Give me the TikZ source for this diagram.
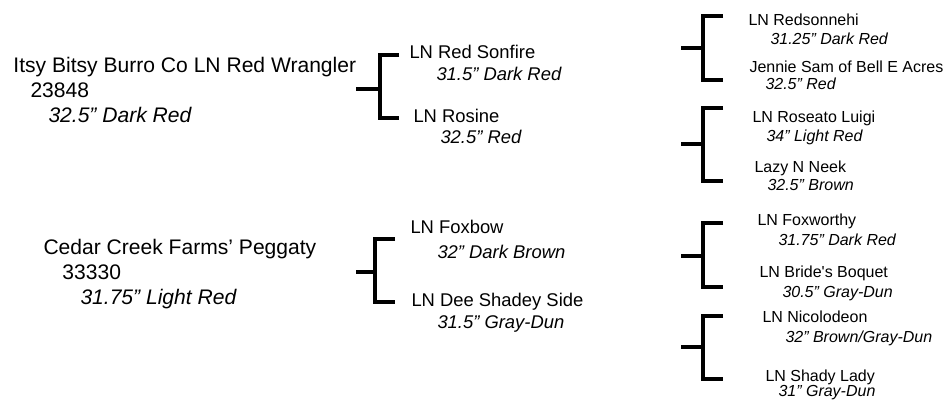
\documentclass[tikz,border=0pt]{standalone}
\usepackage{fontspec}
\setmainfont{Liberation Sans}
\tikzset{every picture/.style={line width=0.75pt}}
\tikzset{
	sire/.style={anchor=base west,inner sep=0pt,font=\fontsize{15.8}{19}\selectfont},
	sireinfo/.style={sire,font=\fontsize{15.8}{19}\selectfont\itshape},
	parent/.style={anchor=base west,inner sep=0pt,font=\fontsize{13.8}{16}\selectfont},
	parentinfo/.style={parent,font=\fontsize{13.8}{16}\selectfont\itshape},
	grand/.style={anchor=base west,inner sep=0pt,font=\fontsize{12}{14}\selectfont},
	grandinfo/.style={grand,font=\fontsize{12}{14}\selectfont\itshape},
	bracket/.style={line width=3.2pt}
}

\begin{document}
\begin{tikzpicture}[x=0.75pt,y=0.75pt,yscale=-1,xscale=1]
		\useasboundingbox (0,0) rectangle (947,400);
		
		%Generation 1
		\node [sire] (wrangler) at (13,72) {Itsy Bitsy Burro Co LN Red Wrangler};
		\node [sire] (wranglerreg) at (30,97) {23848};
		\node [sireinfo] (wranglerht) at (48,122) {32.5” Dark Red};
		\node [sire] (peggaty) at (43,254) {Cedar Creek Farms’ Peggaty};
		\node [sire] (peggatyreg) at (62,279) {33330};
		\node [sireinfo] (peggatyht) at (80,304) {31.75” Light Red};
		
		%Generation 2
		\node [parent] (sonfire) at (409,58) {LN Red Sonfire};
		\node [parentinfo] (sonfireht) at (436,80) {31.5” Dark Red};
		\node [parent] (rosine) at (413,122) {LN Rosine};
		\node [parentinfo] (rosineht) at (440,143) {32.5” Red};
		\node [parent] (foxbow) at (410,233) {LN Foxbow};
		\node [parentinfo] (foxbowht) at (437,258) {32” Dark Brown};
		\node [parent] (shadey) at (411,306) {LN Dee Shadey Side};
		\node [parentinfo] (shadeyht) at (437,328) {31.5” Gray-Dun};
		
		%Generation 3
		\node [grand] (redsonnehi) at (748,25) {LN Redsonnehi};
		\node [grandinfo] (redsonnehiht) at (770,44) {31.25” Dark Red};
		\node [grand] (jennie) at (749,72) {Jennie Sam of Bell E Acres};
		\node [grandinfo] (jennieht) at (765,89) {32.5” Red};
		\node [grand] (roseato) at (752,122) {LN Roseato Luigi};
		\node [grandinfo] (roseatoht) at (766,141) {34” Light Red};
		\node [grand] (neek) at (754,172) {Lazy N Neek};
		\node [grandinfo] (neekht) at (767,190) {32.5” Brown};
		\node [grand] (foxworthy) at (757,225) {LN Foxworthy};
		\node [grandinfo] (foxworthyht) at (778,245) {31.75” Dark Red};
		\node [grand] (boquet) at (759,277) {LN Bride\textquotesingle s Boquet};
		\node [grandinfo] (boquetht) at (782,297) {30.5” Gray-Dun};
		\node [grand] (nicolodeon) at (762,322) {LN Nicolodeon};
		\node [grandinfo] (nicolodeonht) at (785,342) {32” Brown/Gray-Dun};
		\node [grand] (shadylady) at (765,381) {LN Shady Lady};
		\node [grandinfo] (shadyladyht) at (778,396) {31” Gray-Dun};
		
		%Brackets generation 1 -> 2
		\coordinate (s1) at (356,89); \coordinate (v1) at (380,89);
		\coordinate (t1) at (399,55); \coordinate (b1) at (399,118);
		\draw [bracket] (s1) -- (v1);
		\draw [bracket] (t1) -- (t1 -| v1) -- (b1 -| v1) -- (b1);
		\coordinate (s2) at (356,272); \coordinate (v2) at (375,272);
		\coordinate (t2) at (395,239); \coordinate (b2) at (395,302);
		\draw [bracket] (s2) -- (v2);
		\draw [bracket] (t2) -- (t2 -| v2) -- (b2 -| v2) -- (b2);
		
		%Brackets generation 2 -> 3
		\coordinate (s3) at (681,48); \coordinate (v3) at (703,48);
		\coordinate (t3) at (723,16); \coordinate (b3) at (723,80);
		\draw [bracket] (s3) -- (v3);
		\draw [bracket] (t3) -- (t3 -| v3) -- (b3 -| v3) -- (b3);
		\coordinate (s4) at (681,144); \coordinate (v4) at (703,144);
		\coordinate (t4) at (723,108); \coordinate (b4) at (723,181);
		\draw [bracket] (s4) -- (v4);
		\draw [bracket] (t4) -- (t4 -| v4) -- (b4 -| v4) -- (b4);
		\coordinate (s5) at (681,256); \coordinate (v5) at (703,256);
		\coordinate (t5) at (723,223); \coordinate (b5) at (723,287);
		\draw [bracket] (s5) -- (v5);
		\draw [bracket] (t5) -- (t5 -| v5) -- (b5 -| v5) -- (b5);
		\coordinate (s6) at (681,347); \coordinate (v6) at (703,347);
		\coordinate (t6) at (723,316); \coordinate (b6) at (723,379);
		\draw [bracket] (s6) -- (v6);
		\draw [bracket] (t6) -- (t6 -| v6) -- (b6 -| v6) -- (b6);
		
	\end{tikzpicture}
\end{document}
